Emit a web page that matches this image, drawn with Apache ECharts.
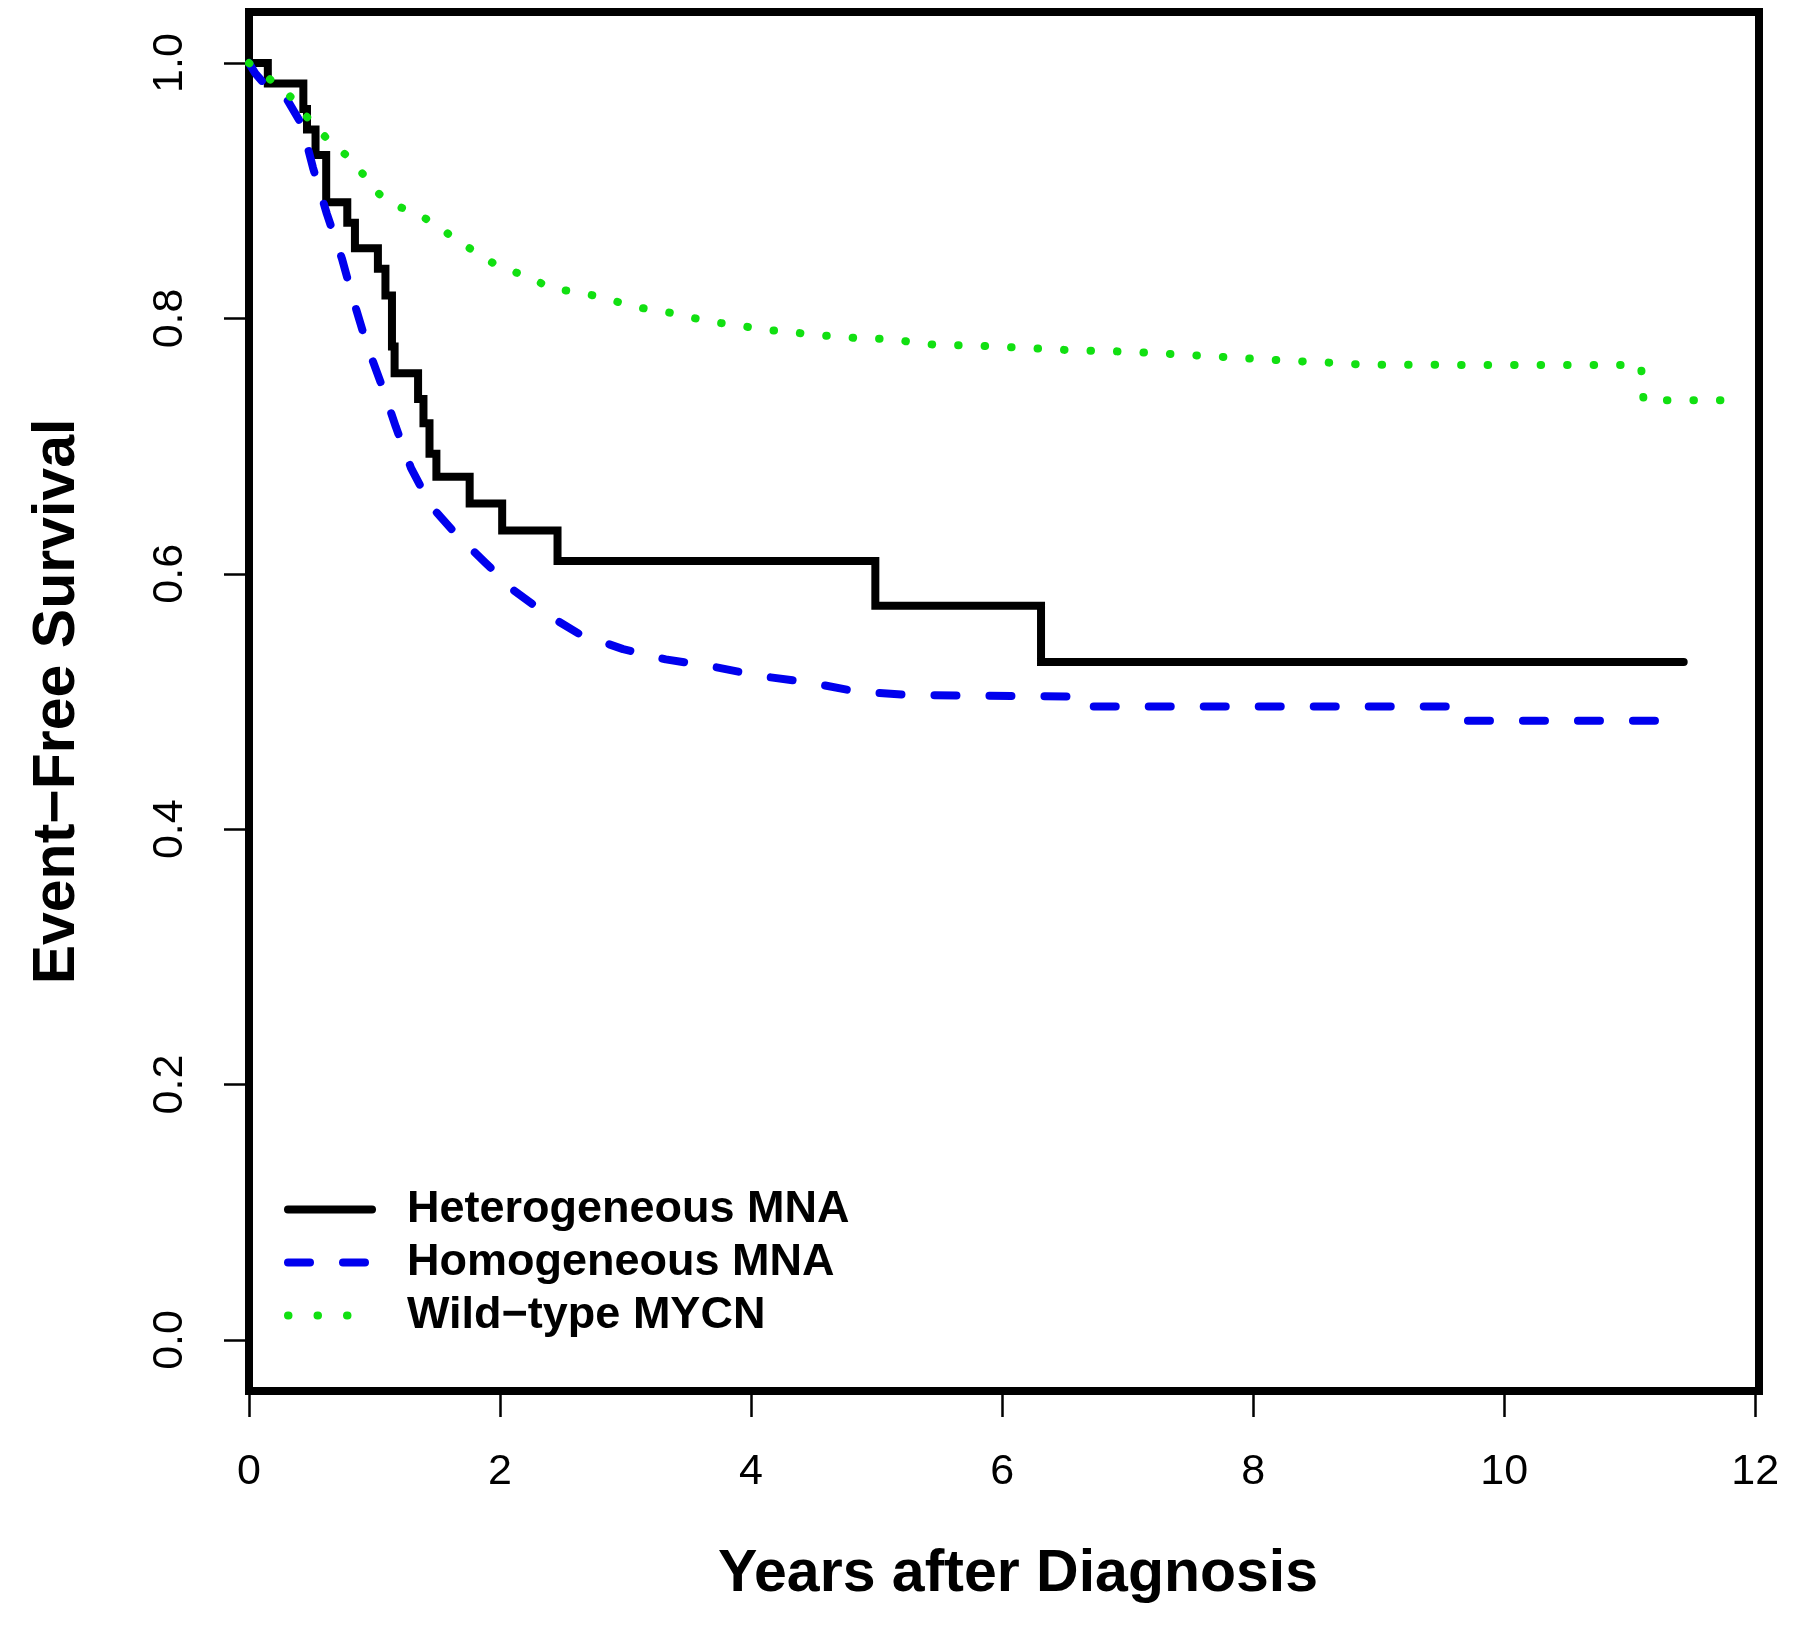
<!DOCTYPE html>
<html>
<head>
<meta charset="utf-8">
<script src="https://cdn.jsdelivr.net/npm/echarts@6/dist/echarts.min.js"></script>
<style>
  html, body { margin: 0; padding: 0; background: #fff; }
  #chart { width: 1800px; height: 1644px; }
</style>
</head>
<body>
<div id="chart"></div>
<script>
// Series names
const seriesNames = ['Heterogeneous MNA', 'Homogeneous MNA', 'Wild\u2212type MYCN'];

// Heterogeneous MNA: Kaplan-Meier steps [years, survival]
const heterogeneous = [
  [0, 1.0], [0.15, 0.984], [0.433, 0.964], [0.462, 0.948], [0.53, 0.928],
  [0.615, 0.891], [0.783, 0.875], [0.844, 0.855], [1.027, 0.839], [1.087, 0.818],
  [1.139, 0.778], [1.16, 0.757], [1.347, 0.737], [1.39, 0.718], [1.438, 0.694],
  [1.493, 0.676], [1.758, 0.655], [2.017, 0.634], [2.458, 0.610], [4.99, 0.575],
  [6.31, 0.531], [11.43, 0.531]
];

// Homogeneous MNA [years, survival]
const homogeneous = [
  [0, 1.0], [0.05, 0.992], [0.12, 0.984], [0.3, 0.972], [0.42, 0.952],
  [0.51, 0.918], [0.62, 0.882], [0.74, 0.847], [0.83, 0.815], [0.94, 0.779],
  [1.06, 0.747], [1.17, 0.715], [1.29, 0.683], [1.45, 0.653], [1.65, 0.631],
  [1.88, 0.609], [2.11, 0.587], [2.36, 0.569], [2.63, 0.553], [2.98, 0.541],
  [3.32, 0.533], [3.71, 0.527], [4.07, 0.520], [4.46, 0.515], [4.83, 0.508],
  [5.26, 0.505], [6.52, 0.504], [6.57, 0.496], [9.66, 0.496], [9.69, 0.485],
  [11.38, 0.485]
];

// Wild-type MYCN [years, survival]
const wildType = [
  [0, 1.0], [0.12, 0.991], [0.26, 0.980], [0.37, 0.970], [0.46, 0.958],
  [0.57, 0.946], [0.68, 0.935], [0.80, 0.926], [0.90, 0.914], [1.03, 0.898],
  [1.16, 0.889], [1.28, 0.884], [1.41, 0.878], [1.55, 0.869], [1.67, 0.860],
  [1.81, 0.852], [1.95, 0.843], [2.10, 0.837], [2.26, 0.831], [2.42, 0.823],
  [2.60, 0.821], [2.79, 0.817], [2.97, 0.812], [3.14, 0.808], [3.33, 0.805],
  [3.51, 0.801], [3.70, 0.797], [3.89, 0.795], [4.09, 0.791], [4.29, 0.790],
  [4.49, 0.787], [4.69, 0.786], [4.90, 0.784], [5.12, 0.784], [5.30, 0.781],
  [5.51, 0.779], [5.72, 0.779], [5.95, 0.778], [6.15, 0.777], [6.37, 0.776],
  [6.57, 0.775], [7.01, 0.774], [7.65, 0.7705], [8.25, 0.767], [8.69, 0.765],
  [8.89, 0.7637], [11.09, 0.7635], [11.11, 0.736], [11.74, 0.736]
];

// Tick values
const xTicks = [0, 2, 4, 6, 8, 10, 12];
const yTicks = [0, 0.2, 0.4, 0.6, 0.8, 1.0];

const FONT = '"Liberation Sans", Arial, Helvetica, sans-serif';
const BLACK = '#000000', BLUE = '#0000ee', GREEN = '#11e011';

const chart = echarts.init(document.getElementById('chart'), null, { renderer: 'canvas' });

const option = {
  animation: false,
  backgroundColor: '#ffffff',
  grid: {
    left: 249, right: 41, top: 12, bottom: 253,
    show: true, borderColor: '#000', borderWidth: 8, backgroundColor: 'transparent'
  },
  xAxis: {
    type: 'value', min: 0, max: 12.03,
    name: 'Years after Diagnosis', nameLocation: 'middle', nameGap: 154,
    nameTextStyle: { fontFamily: FONT, fontSize: 59, fontWeight: 'bold', color: '#000', padding: [0, 0, 0, 28] },
    axisLine: { show: false, onZero: false },
    axisTick: { show: true, inside: false, length: 26, customValues: xTicks, lineStyle: { color: '#000', width: 2.5 } },
    axisLabel: { customValues: xTicks, margin: 60, fontFamily: FONT, fontSize: 43, color: '#000',
      formatter: v => String(v) },
    splitLine: { show: false }
  },
  yAxis: {
    type: 'value', min: -0.04, max: 1.04,
    name: 'Event\u2212Free Survival', nameLocation: 'middle', nameGap: 162, nameRotate: 90,
    nameTextStyle: { fontFamily: FONT, fontSize: 59, fontWeight: 'bold', color: '#000' },
    axisLine: { show: false, onZero: false },
    axisTick: { show: true, inside: false, length: 25, customValues: yTicks, lineStyle: { color: '#000', width: 2.5 } },
    axisLabel: { customValues: yTicks, margin: 57, rotate: 90, fontFamily: FONT, fontSize: 43, color: '#000',
      formatter: v => v.toFixed(1) },
    splitLine: { show: false }
  },
  legend: {
    orient: 'vertical', left: 279, top: 1178,
    itemWidth: 84, itemHeight: 14, itemGap: 0,
    data: [
      { name: seriesNames[0], lineStyle: { width: 8, type: 'solid', cap: 'round' } },
      { name: seriesNames[1], lineStyle: { width: 8, type: [22, 33], cap: 'round' } },
      { name: seriesNames[2], lineStyle: { width: 8, type: [0.5, 29], cap: 'round' } }
    ],
    itemStyle: { opacity: 0 },
    lineStyle: { width: 8, cap: 'round' },
    textStyle: { fontFamily: FONT, fontSize: 45, fontWeight: 'bold', color: '#000', lineHeight: 53, padding: [0, 0, 0, 30] },
    selectedMode: false
  },
  series: [
    {
      name: seriesNames[0], type: 'line', data: heterogeneous, step: 'end',
      symbol: 'none', clip: false,
      lineStyle: { color: BLACK, width: 8, type: 'solid', cap: 'round', join: 'miter' },
      itemStyle: { color: BLACK },
      z: 3
    },
    {
      name: seriesNames[1], type: 'line', data: homogeneous,
      symbol: 'none', clip: false,
      lineStyle: { color: BLUE, width: 8, type: [22, 33], cap: 'round', join: 'round' },
      itemStyle: { color: BLUE },
      z: 4
    },
    {
      name: seriesNames[2], type: 'line', data: wildType,
      symbol: 'none', clip: false,
      lineStyle: { color: GREEN, width: 8, type: [0.5, 26], cap: 'round', join: 'round' },
      itemStyle: { color: GREEN },
      z: 5
    }
  ]
};

chart.setOption(option);
</script>
</body>
</html>
